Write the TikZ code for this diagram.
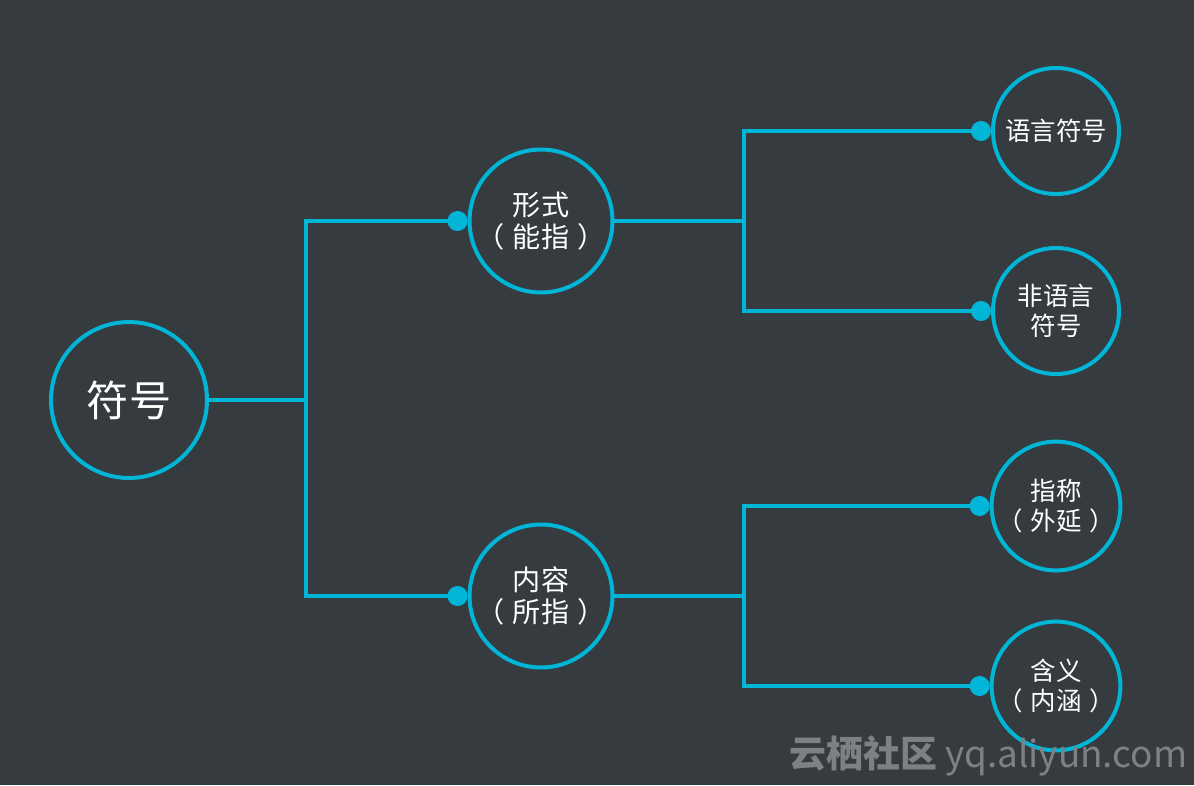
\documentclass[tikz,border=0pt]{standalone}
\usepackage{fontspec}
\setmainfont{Noto Sans CJK SC}
\usetikzlibrary{arrows.meta}
\definecolor{bgcol}{HTML}{363B40}
\definecolor{linecol}{HTML}{00B5D5}
\definecolor{markcol}{HTML}{7E8184}
\newcommand{\paren}[1]{（\hspace{0.3em}#1\hspace{0.3em}）}
\tikzset{
  ring/.style={circle, draw=linecol, line width=0.08cm, text=white, align=center, inner sep=0pt},
  rootring/.style={ring, minimum size=3.12cm, font=\fontsize{24}{28}\selectfont},
  midring/.style={ring, minimum size=2.86cm, font=\fontsize{16}{18.5}\selectfont},
  leafring/.style={ring, minimum size=2.52cm, font=\fontsize{14.5}{17}\selectfont},
  link/.style={draw=linecol, line width=0.08cm},
  dotlink/.style={link, -{Circle[length=0.4cm, width=0.4cm]}}
}
\begin{document}
\begin{tikzpicture}[x=0.02cm, y=-0.02cm]
  \fill[bgcol] (0,0) rectangle (1194,785);
  \useasboundingbox (0,0) rectangle (1194,785);
  % nodes
  \node[rootring] (fh) at (129,400) {符号};
  \node[midring] (xs) at (541,221) {形式\\\paren{能指}};
  \node[midring] (nr) at (541,596) {内容\\\paren{所指}};
  \node[leafring] (yy) at (1056,131) {语言符号};
  \node[leafring] (fy) at (1056,311) {非语言\\符号};
  \node[leafring] (zc) at (1056,506) {指称\\\paren{外延}};
  \node[leafring] (hy) at (1056,686) {含义\\\paren{内涵}};
  % branch points
  \coordinate (b0) at (306,400);
  \coordinate (b1) at (744,221);
  \coordinate (b2) at (744,596);
  % connectors
  \draw[link] (fh.east) -- (b0);
  \draw[dotlink] (b0) |- (xs.west);
  \draw[dotlink] (b0) |- (nr.west);
  \draw[link] (xs.east) -- (b1);
  \draw[dotlink] (b1) |- (yy.west);
  \draw[dotlink] (b1) |- (fy.west);
  \draw[link] (nr.east) -- (b2);
  \draw[dotlink] (b2) |- (zc.west);
  \draw[dotlink] (b2) |- (hy.west);
  % watermark
  \node[anchor=base west, text=markcol, font=\fontsize{21}{24}\selectfont, inner sep=0pt] (wm) at (789,767) {\textbf{云栖社区} yq.aliyun.com};
\end{tikzpicture}
\end{document}
